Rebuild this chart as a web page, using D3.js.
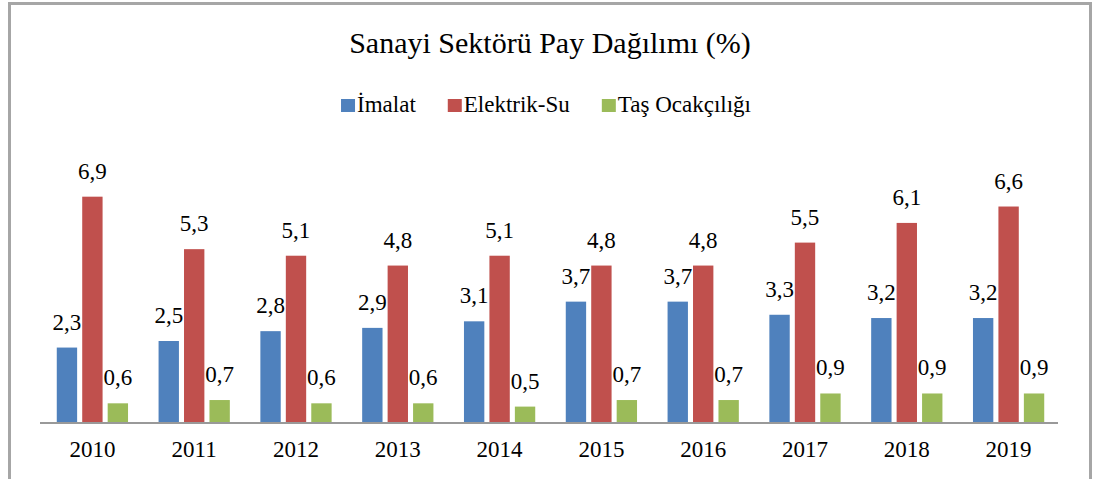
<html>
<head>
    <title>Sanayi Sektörü Pay Dağılımı</title>
    <script src="https://d3js.org/d3.v7.min.js"></script>
    <style>
        body { margin: 0; background: #fff; }
    </style>
</head>
<body>
    <div id="cont"></div>
    <script>
        var years = ['2010', '2011', '2012', '2013', '2014', '2015', '2016', '2017', '2018', '2019'];
        var seriesNames = ['İmalat', 'Elektrik-Su', 'Taş Ocakçılığı'];
        var imalat = [2.3, 2.5, 2.8, 2.9, 3.1, 3.7, 3.7, 3.3, 3.2, 3.2];
        var elektrikSu = [6.9, 5.3, 5.1, 4.8, 5.1, 4.8, 4.8, 5.5, 6.1, 6.6];
        var tasOcakciligi = [0.6, 0.7, 0.6, 0.6, 0.5, 0.7, 0.7, 0.9, 0.9, 0.9];
        var colors = ['#4f81bd', '#c0504d', '#9bbb59'];

        (function() {
            var W = 1093, H = 479,
                serif = '"Liberation Serif", "Times New Roman", serif',
                plot = { left: 40, right: 1058, bottom: 423 },
                seriesValues = [imalat, elektrikSu, tasOcakciligi],
                fmt = function(v) { return d3.format('.1f')(v).replace('.', ','); };

            var svg = d3.select('#cont').append('svg')
                .attr('width', W)
                .attr('height', H)
                .style('font-family', serif);

            // outer frame (bottom edge is cut off in the original)
            svg.append('rect')
                .attr('x', 9.5).attr('y', 3.5)
                .attr('width', 1081).attr('height', H + 20)
                .attr('fill', '#fff')
                .attr('stroke', '#a6a6a6')
                .attr('stroke-width', 3);

            //Define scales
            var x0 = d3.scaleBand()
                .domain(years)
                .range([plot.left + 1.5, plot.right + 1.5])
                .paddingInner(0.3)
                .paddingOuter(0.15);

            var x1 = d3.scaleBand()
                .domain(seriesNames)
                .range([0, x0.bandwidth()])
                .paddingInner(0.2);

            var y = d3.scaleLinear()
                .domain([0, 8])
                .range([plot.bottom, plot.bottom - 8 * 32.8]);

            var rows = years.map(function(yr, i) {
                return {
                    year: yr,
                    vals: seriesNames.map(function(s, j) {
                        return { name: s, value: seriesValues[j][i], color: colors[j] };
                    })
                };
            });

            // title
            svg.append('text')
                .attr('x', 550).attr('y', 53)
                .attr('text-anchor', 'middle')
                .style('font-size', '30px')
                .text('Sanayi Sektörü Pay Dağılımı (%)');

            // legend
            var legend = svg.append('g');
            var lx = 0, gap = 32;
            seriesNames.forEach(function(s, j) {
                var item = legend.append('g').attr('transform', 'translate(' + lx + ',0)');
                item.append('rect')
                    .attr('x', 0).attr('y', -13)
                    .attr('width', 14).attr('height', 13)
                    .attr('fill', colors[j]);
                var t = item.append('text')
                    .attr('x', 16)
                    .style('font-size', '23px')
                    .text(s);
                lx += 16 + t.node().getComputedTextLength() + gap;
            });
            lx -= gap;
            legend.attr('transform', 'translate(' + (546 - lx / 2) + ',112)');

            // bars
            var groups = svg.selectAll('g.year')
                .data(rows)
                .enter()
                .append('g')
                .attr('class', 'year')
                .attr('transform', function(d) { return 'translate(' + x0(d.year) + ',0)'; });

            groups.selectAll('rect')
                .data(function(d) { return d.vals; })
                .enter()
                .append('rect')
                .attr('x', function(d) { return x1(d.name); })
                .attr('width', x1.bandwidth())
                .attr('y', function(d) { return y(d.value); })
                .attr('height', function(d) { return y(0) - y(d.value); })
                .attr('fill', function(d) { return d.color; });

            groups.selectAll('text.val')
                .data(function(d) { return d.vals; })
                .enter()
                .append('text')
                .attr('class', 'val')
                .attr('x', function(d) { return x1(d.name) + x1.bandwidth() / 2; })
                .attr('y', function(d) { return y(d.value) - 18; })
                .attr('text-anchor', 'middle')
                .style('font-size', '23px')
                .text(function(d) { return fmt(d.value); });

            //Create axis
            var xAxis = d3.axisBottom(x0).tickSize(0).tickPadding(18);
            var ax = svg.append('g')
                .attr('transform', 'translate(0,' + plot.bottom + ')')
                .call(xAxis);
            ax.select('.domain').remove();
            ax.attr('font-family', null).attr('font-size', null);
            ax.selectAll('text')
                .style('font-size', '23px')
                .attr('fill', '#000');
            svg.append('line')
                .attr('x1', plot.left).attr('x2', plot.right)
                .attr('y1', plot.bottom).attr('y2', plot.bottom)
                .attr('stroke', '#999')
                .attr('stroke-width', 2);
        })();
    </script>
</body>
</html>
